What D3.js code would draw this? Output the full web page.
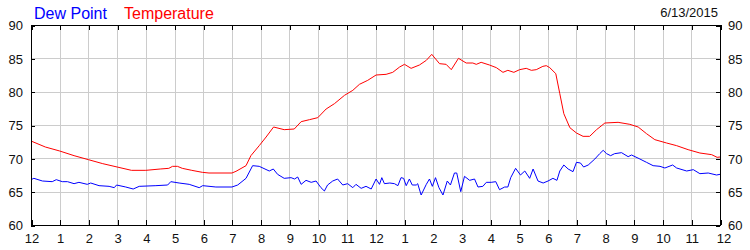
<!DOCTYPE html>
<html>
<head>
<meta charset="utf-8">
<script src="https://cdn.jsdelivr.net/npm/d3@7/dist/d3.min.js"></script>
<style>
  html, body { margin: 0; padding: 0; background: #fff; }
  svg { display: block; font-family: "Liberation Sans", Arial, sans-serif; }
</style>
</head>
<body>
<svg id="chart" width="750" height="250"></svg>
<script>
// ---- data (hours since midnight, values in °F) ----
const tempHours = [0,0.5,1,1.5,2,2.5,3,3.5,4,4.5,4.8,4.93,5.1,5.27,5.6,5.97,6.2,7.0,7.14,7.49,7.66,7.95,8.19,8.45,8.82,9.17,9.41,9.7,9.99,10.28,10.57,10.92,11.21,11.44,11.73,12.02,12.37,12.6,12.84,13.01,13.24,13.53,13.77,13.96,14.23,14.46,14.64,14.89,15.16,15.39,15.51,15.68,15.97,16.21,16.44,16.61,16.82,17.02,17.25,17.43,17.6,17.83,17.95,18.07,18.28,18.42,18.56,18.77,19.0,19.23,19.46,19.7,19.99,20.45,20.86,21.15,21.44,21.73,22.14,22.49,22.89,23.3,23.71,23.9,24];
const tempValues = [72.6,71.7,71.1,70.4,69.8,69.2,68.7,68.2,68.2,68.4,68.5,68.8,68.8,68.5,68.2,67.9,67.8,67.8,68.05,68.9,70.4,71.9,73.2,74.7,74.3,74.4,75.5,75.8,76.1,77.4,78.2,79.45,80.2,81.1,81.7,82.5,82.6,82.9,83.7,84.1,83.5,84.0,84.7,85.6,84.2,84.1,83.3,85.0,84.3,84.3,84.1,84.4,84.0,83.6,82.9,83.2,82.9,83.3,83.5,83.2,83.3,83.8,83.9,83.6,82.7,79.7,76.7,74.6,73.8,73.3,73.3,74.3,75.3,75.4,75.1,74.7,73.7,72.8,72.3,71.9,71.3,70.8,70.55,70.15,70.2];

const dewHours = [0,0.1,0.4,0.74,0.88,1.09,1.27,1.5,1.67,1.96,2.08,2.37,2.72,2.9,2.98,3.3,3.56,3.77,4.35,4.76,4.87,5.16,5.51,5.86,5.98,6.44,7.0,7.2,7.49,7.72,7.95,8.3,8.44,8.59,8.82,9.06,9.18,9.29,9.41,9.58,9.76,9.93,10.1,10.22,10.33,10.51,10.68,10.86,11.03,11.21,11.32,11.5,11.67,11.85,12.02,12.14,12.22,12.31,12.5,12.66,12.78,12.89,12.98,13.07,13.18,13.28,13.42,13.47,13.59,13.77,13.88,13.98,14.09,14.21,14.35,14.5,14.61,14.75,14.83,14.97,15.1,15.28,15.45,15.57,15.74,15.86,16.03,16.19,16.32,16.5,16.61,16.71,16.88,17.05,17.2,17.37,17.49,17.66,17.84,18.01,18.18,18.32,18.42,18.56,18.71,18.88,19.0,19.14,19.25,19.41,19.64,19.81,19.93,20.05,20.19,20.33,20.57,20.8,20.92,21.21,21.44,21.67,21.91,22.08,22.35,22.49,22.84,23.07,23.3,23.59,23.88,24];
const dewValues = [66.8,67.0,66.6,66.5,66.8,66.5,66.5,66.2,66.4,66.1,66.3,65.9,65.8,65.6,66.0,65.7,65.4,65.8,65.9,66.0,66.5,66.3,66.1,65.6,65.9,65.7,65.7,66.0,67.0,68.9,68.8,68.1,68.4,67.6,67.0,67.1,66.9,67.2,66.1,66.7,66.4,66.6,65.6,65.1,66.0,66.6,66.9,66.0,66.2,65.6,66.1,65.5,65.8,65.4,66.9,66.1,67.1,66.2,66.3,66.2,65.9,67.1,67.0,65.9,66.9,66.0,66.0,66.2,64.5,66.1,66.9,65.8,67.1,65.6,64.5,66.6,66.0,67.8,67.8,65.0,67.3,66.7,66.9,65.7,65.8,66.4,66.4,66.5,65.3,65.7,65.7,67.1,68.5,67.5,68.1,67.0,68.4,66.6,66.3,66.6,67.0,66.7,68.1,69.0,68.4,68.0,69.4,69.3,68.7,69.0,69.9,70.7,71.2,70.7,70.4,70.7,70.85,70.25,70.5,69.9,69.4,68.9,68.8,68.55,69.0,68.55,68.1,68.3,67.7,67.8,67.5,67.6];

const xTicks = d3.range(0, 25);               // every hour
const yTicks = [60, 65, 70, 75, 80, 85, 90];
const dateLabel = "6/13/2015";
const seriesNames = ["Dew Point", "Temperature"];

// ---- layout ----
const mLeft = 31, mRight = 720, mTop = 25, mBottom = 225;
const svg = d3.select("#chart");

const x = d3.scaleLinear().domain([0, 24]).range([mLeft, mRight]);
const y = d3.scaleLinear().domain([60, 90]).range([mBottom, mTop]);

const hourFmt = h => { const m = h % 12; return m === 0 ? "12" : String(m); };

// grid
const grid = svg.append("g").attr("stroke", "#cccccc").attr("stroke-width", 1).attr("shape-rendering", "crispEdges");
grid.selectAll("line.v").data(xTicks.slice(1, -1)).join("line")
  .attr("x1", d => Math.round(x(d)) + 0.5).attr("x2", d => Math.round(x(d)) + 0.5)
  .attr("y1", mTop).attr("y2", mBottom);
grid.selectAll("line.h").data(yTicks.slice(1, -1)).join("line")
  .attr("y1", d => Math.round(y(d)) + 0.5).attr("y2", d => Math.round(y(d)) + 0.5)
  .attr("x1", mLeft).attr("x2", mRight);

// lines
const lineGen = d3.line().x(d => x(d[0])).y(d => y(d[1]));
svg.append("path").datum(dewHours.map((h, i) => [h, dewValues[i]]))
  .attr("fill", "none").attr("stroke", "#0000ff").attr("stroke-width", 1).attr("d", lineGen);
svg.append("path").datum(tempHours.map((h, i) => [h, tempValues[i]]))
  .attr("fill", "none").attr("stroke", "#ff0000").attr("stroke-width", 1).attr("d", lineGen);

// axes
function styleAxis(g) {
  g.select(".domain").remove();
  g.selectAll(".tick line").attr("stroke", "#000").attr("shape-rendering", "crispEdges");
  g.selectAll(".tick text").attr("fill", "#101010").attr("font-size", 13)
    .attr("font-family", '"Liberation Sans", Arial, sans-serif');
}
const gB = svg.append("g").attr("transform", `translate(0.5,${mBottom})`)
  .call(d3.axisBottom(x).tickValues(xTicks).tickFormat(hourFmt).tickSizeInner(-5).tickSizeOuter(0).tickPadding(9))
  .call(styleAxis);
gB.selectAll(".tick text").filter(d => d === 24).attr("dx", 3);
svg.append("g").attr("transform", `translate(0.5,${mTop})`)
  .call(d3.axisTop(x).tickValues(xTicks).tickFormat("").tickSizeInner(-5).tickSizeOuter(0))
  .call(styleAxis);
svg.append("g").attr("transform", `translate(${mLeft},0.5)`)
  .call(d3.axisLeft(y).tickValues(yTicks).tickSizeInner(-4).tickSizeOuter(0).tickPadding(8))
  .call(styleAxis);
svg.append("g").attr("transform", `translate(${mRight},0.5)`)
  .call(d3.axisRight(y).tickValues(yTicks).tickSizeInner(-4).tickSizeOuter(0).tickPadding(8))
  .call(styleAxis);

// frame
svg.append("rect").attr("x", mLeft + 0.5).attr("y", mTop + 0.5)
  .attr("width", mRight - mLeft).attr("height", mBottom - mTop)
  .attr("fill", "none").attr("stroke", "#000").attr("stroke-width", 1).attr("shape-rendering", "crispEdges");

// titles
svg.append("text").attr("x", 34).attr("y", 19).attr("font-size", 16).attr("fill", "#0000ff").text(seriesNames[0]);
svg.append("text").attr("x", 124).attr("y", 19).attr("font-size", 16).attr("fill", "#ff0000").text(seriesNames[1]);
svg.append("text").attr("x", 718).attr("y", 17).attr("font-size", 13).attr("fill", "#101010")
  .attr("text-anchor", "end").text(dateLabel);
</script>
</body>
</html>
